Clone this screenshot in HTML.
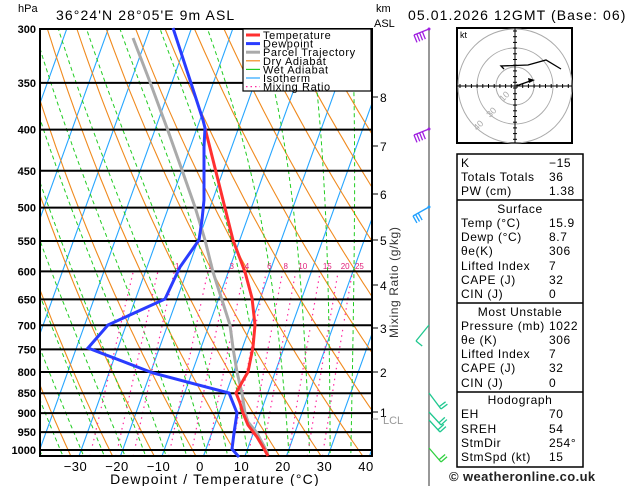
<!DOCTYPE html>
<html><head><meta charset="utf-8">
<style>
body{margin:0;background:#fff;width:629px;height:486px;overflow:hidden;font-family:"Liberation Sans",sans-serif}
svg text{font-family:"Liberation Sans",sans-serif}
</style></head><body>
<svg id="s" width="629" height="486" xmlns="http://www.w3.org/2000/svg">
<defs><clipPath id="c"><rect x="40" y="29" width="332" height="427"/></clipPath></defs>
<g id="bg" clip-path="url(#c)"></g>
<g id="fg"></g>
</svg>
<script>
const NS="http://www.w3.org/2000/svg";
const bg=document.getElementById('bg'),fg=document.getElementById('fg');
function Y(p){return 29+349.7*(Math.log(p)-Math.log(300));}
function X(T,p){return 203.5+4.15*T+0.36*(456-Y(p));}
function el(par,tag,a,txt){const e=document.createElementNS(NS,tag);for(const k in a)e.setAttribute(k,a[k]);if(txt!==undefined)e.textContent=txt;par.appendChild(e);return e;}
function poly(par,pts,a){a.points=pts.map(q=>q[0].toFixed(1)+','+q[1].toFixed(1)).join(' ');a.fill='none';return el(par,'polyline',a);}
const P=[];for(let p=1050;p>=290;p-=10)P.push(p);
for(let T=-120;T<=50;T+=10){poly(bg,[[X(T,1050),Y(1050)],[X(T,290),Y(290)]],{stroke:'#27a6ff','stroke-width':1.1});}
for(let th=230;th<=480;th+=10){poly(bg,P.map(p=>{const T=th*Math.pow(p/1000,0.2857)-273.15;return [X(T,p),Y(p)];}),{stroke:'#f08a1e','stroke-width':1.1});}
function es(T){return 6.112*Math.exp(17.67*T/(T+243.5));}
function dTdp(T,p){const Tk=T+273.15,e=es(T),rs=0.622*e/(p-e),L=2.5e6,Rd=287,cp=1005;return (Rd*Tk+L*rs)/(p*(cp+L*L*rs*0.622/(Rd*Tk*Tk)));}
for(let tw=-40;tw<=45;tw+=5){let pts=[];let T=tw;for(let p=1000;p<=1050;p+=5){pts.unshift([X(T,p),Y(p)]);T+=dTdp(T,p)*5;}
 T=tw;for(let p=1000;p>=290;p-=5){pts.push([X(T,p),Y(p)]);T-=dTdp(T,p)*5;}
 poly(bg,pts,{stroke:'#22cc22','stroke-width':1,'stroke-dasharray':'4,3'});}
const W=[0.4,0.7,1,2,3,4,6,8,10,15,20,25];
for(const w of W){const pts=[];for(let p=1050;p>=600;p-=10){const e=w*p/(622+w);const L=Math.log(e/6.112);const Td=243.5*L/(17.67-L);pts.push([X(Td,p),Y(p)]);}
 poly(bg,pts,{stroke:'#ff2aa0','stroke-width':1.2,'stroke-dasharray':'1.5,4'});
 if(w>=1){const e=w*600/(622+w),L=Math.log(e/6.112),Td=243.5*L/(17.67-L);el(fg,'text',{x:X(Td,600)+3+(w>=10?4:0),y:269,'font-size':8,fill:'#e0207a','text-anchor':'middle'},String(w));}}
const lev=[300,350,400,450,500,550,600,650,700,750,800,850,900,950,1000];
for(const p of lev){el(fg,'line',{x1:40,x2:372,y1:Y(p),y2:Y(p),stroke:'#000','stroke-width':2});
 el(fg,'text',{x:36,y:Y(p)+4,'font-size':11,'font-weight':'bold','text-anchor':'end'},String(p));}
el(fg,'rect',{x:40,y:29,width:332,height:427,fill:'none',stroke:'#000','stroke-width':2});
const gray=[[133,38],[150,82],[167,128],[182,170],[195,207],[205,240],[213,272],[222,300],[230,325],[233,348],[237,372],[242,393],[245,413],[248,422],[257,433],[265,448],[268,455]];
poly(fg,gray,{stroke:'#aaaaaa','stroke-width':3});
const red=[[205,128],[218,180],[233,240],[245,272],[252,298],[255,325],[253,347],[248,372],[245,377],[236,393],[240,403],[243,413],[248,425],[257,437],[263,447],[268,456]];
poly(fg,red,{stroke:'#ff3030','stroke-width':3});
const blue=[[173,28],[190,80],[203,120],[205,128],[204,147],[204,200],[202,220],[199,240],[180,267],[165,299],[108,325],[88,348],[153,373],[229,393],[237,413],[234,433],[232,449],[239,457]];
poly(fg,blue,{stroke:'#2a3cff','stroke-width':3});
const km=[[8,97],[7,146],[6,194],[5,240],[4,285],[3,328],[2,372],[1,412]];
for(const [k,y] of km){el(fg,'line',{x1:372,x2:378,y1:y,y2:y,stroke:'#000'});el(fg,'text',{x:380,y:y+5,'font-size':12},String(k));}
el(fg,'line',{x1:372,x2:378,y1:419,y2:419,stroke:'#888'});
el(fg,'text',{x:383,y:424,'font-size':11,fill:'#999'},'LCL');
el(fg,'text',{x:376,y:12,'font-size':11},'km');
el(fg,'text',{x:374,y:27,'font-size':11},'ASL');
el(fg,'text',{x:18,y:12,'font-size':11},'hPa');
el(fg,'text',{x:56,y:20,'font-size':14,'letter-spacing':'1.1'},'36°24\'N  28°05\'E  9m  ASL');
el(fg,'text',{x:0,y:0,'font-size':12,transform:'translate(398,338) rotate(-90)',fill:'#333','letter-spacing':'0.6'},'Mixing Ratio (g/kg)');
const xt=[-30,-20,-10,0,10,20,30,40];
for(const t of xt){el(fg,'text',{x:200+t*4.15,y:471,'font-size':13,'text-anchor':'middle','letter-spacing':'0.5'},(t<0?'\u2212'+(-t):String(t)));}
el(fg,'text',{x:215,y:484,'font-size':14,'text-anchor':'middle','letter-spacing':'1.2'},'Dewpoint / Temperature (°C)');
el(fg,'rect',{x:243,y:29,width:128,height:62,fill:'#fff',stroke:'#000','stroke-width':1.2});
const lg=[['Temperature','#ff3030',3,''],['Dewpoint','#2a3cff',3,''],['Parcel Trajectory','#aaaaaa',3,''],['Dry Adiabat','#f08a1e',1.2,''],['Wet Adiabat','#22cc22',1.2,''],['Isotherm','#27a6ff',1.2,''],['Mixing Ratio','#ff2aa0',1.2,'1.5,3']];
lg.forEach((l,i)=>{const y=35+i*8.6;el(fg,'line',{x1:246,x2:260,y1:y,y2:y,stroke:l[1],'stroke-width':l[2],'stroke-dasharray':l[3]||'none'});el(fg,'text',{x:263,y:y+4,'font-size':11,'letter-spacing':'0.6'},l[0]);});
el(fg,'line',{x1:429,x2:429,y1:29,y2:486,stroke:'#777','stroke-width':1.5});
function barb(x0,y0,x1,y1,col,n){el(fg,'line',{x1:x0,y1:y0,x2:x1,y2:y1,stroke:col,'stroke-width':1.3});
 const dx=(x1-x0),dy=(y1-y0),L=Math.hypot(dx,dy),ux=dx/L,uy=dy/L;
 for(let i=0;i<n;i++){const bx=x1-ux*i*3,by=y1-uy*i*3;el(fg,'line',{x1:bx,y1:by,x2:bx+uy*8,y2:by-ux*8,stroke:col,'stroke-width':1.3});}}
barb(429,29,414,35,'#a020e0',4);
barb(429,129,414,135,'#a020e0',4);
barb(429,207,413,216,'#20a0ff',3);
barb(429,325,416,341,'#20c890',1);
barb(429,393,441,409,'#20c890',2);
barb(429,412,441,425,'#20c890',2);
barb(429,420,440,432,'#20c890',2);
barb(429,448,441,462,'#30d040',2);
el(fg,'circle',{cx:429,cy:29,r:1.5,fill:'#a020e0'});el(fg,'circle',{cx:429,cy:129,r:1.5,fill:'#a020e0'});el(fg,'circle',{cx:429,cy:207,r:1.5,fill:'#20a0ff'});
el(fg,'text',{x:408,y:20,'font-size':14,'letter-spacing':'1.1'},'05.01.2026  12GMT  (Base: 06)');
const hx=515,hy=86;
el(fg,'rect',{x:457,y:28,width:115,height:115,fill:'#fff',stroke:'#000','stroke-width':2});
for(const r of [19,38,57])el(fg,'circle',{cx:hx,cy:hy,r:r,fill:'none',stroke:'#aaa'});
el(fg,'line',{x1:457,x2:572,y1:hy,y2:hy,stroke:'#000'});el(fg,'line',{x1:hx,x2:hx,y1:28,y2:143,stroke:'#000'});
for(let d=-55;d<=55;d+=5.7){el(fg,'line',{x1:hx+d,x2:hx+d,y1:hy-2,y2:hy+2,stroke:'#000'});el(fg,'line',{x1:hx-2,x2:hx+2,y1:hy+d,y2:hy+d,stroke:'#000'});}
el(fg,'text',{x:460,y:38,'font-size':9},'kt');
el(fg,'text',{x:0,y:0,'font-size':9,fill:'#aaa',transform:'translate(503,102) rotate(-45)'},'10');
el(fg,'text',{x:0,y:0,'font-size':9,fill:'#aaa',transform:'translate(490,118) rotate(-45)'},'30');
el(fg,'text',{x:0,y:0,'font-size':9,fill:'#aaa',transform:'translate(477,131) rotate(-45)'},'40');
poly(fg,[[504,69],[501,66],[528,65],[546,60],[561,69]],{stroke:'#000','stroke-width':1.3});
poly(fg,[[516,86],[533,80]],{stroke:'#000','stroke-width':1.3});
el(fg,'polygon',{points:'535,80 528,78 529,83',fill:'#000'});
el(fg,'rect',{x:457,y:154,width:126,height:313,fill:'#fff',stroke:'#000','stroke-width':1.5});
for(const y of [200,303,392])el(fg,'line',{x1:457,x2:583,y1:y,y2:y,stroke:'#000','stroke-width':1.5});
const rows=[[167,'K','\u221215'],[181,'Totals Totals','36'],[195,'PW (cm)','1.38'],[213,'*Surface',''],[227,'Temp (°C)','15.9'],[241,'Dewp (°C)','8.7'],[255,'θe(K)','306'],[270,'Lifted Index','7'],[284,'CAPE (J)','32'],[298,'CIN (J)','0'],[316,'*Most Unstable',''],[330,'Pressure (mb)','1022'],[344,'θe (K)','306'],[358,'Lifted Index','7'],[372,'CAPE (J)','32'],[387,'CIN (J)','0'],[404,'*Hodograph',''],[418,'EH','70'],[433,'SREH','54'],[447,'StmDir','254°'],[461,'StmSpd (kt)','15']];
for(const [y,a,b] of rows){if(a[0]=='*')el(fg,'text',{x:520,y:y,'font-size':12,'text-anchor':'middle','letter-spacing':'0.6'},a.slice(1));else{el(fg,'text',{x:461,y:y,'font-size':12,'letter-spacing':'0.6'},a);el(fg,'text',{x:549,y:y,'font-size':12,'letter-spacing':'0.6'},b);}}
el(fg,'text',{x:449,y:481,'font-size':13,'font-weight':'bold',fill:'#222','letter-spacing':'0.4'},'© weatheronline.co.uk');
</script>
</body></html>
